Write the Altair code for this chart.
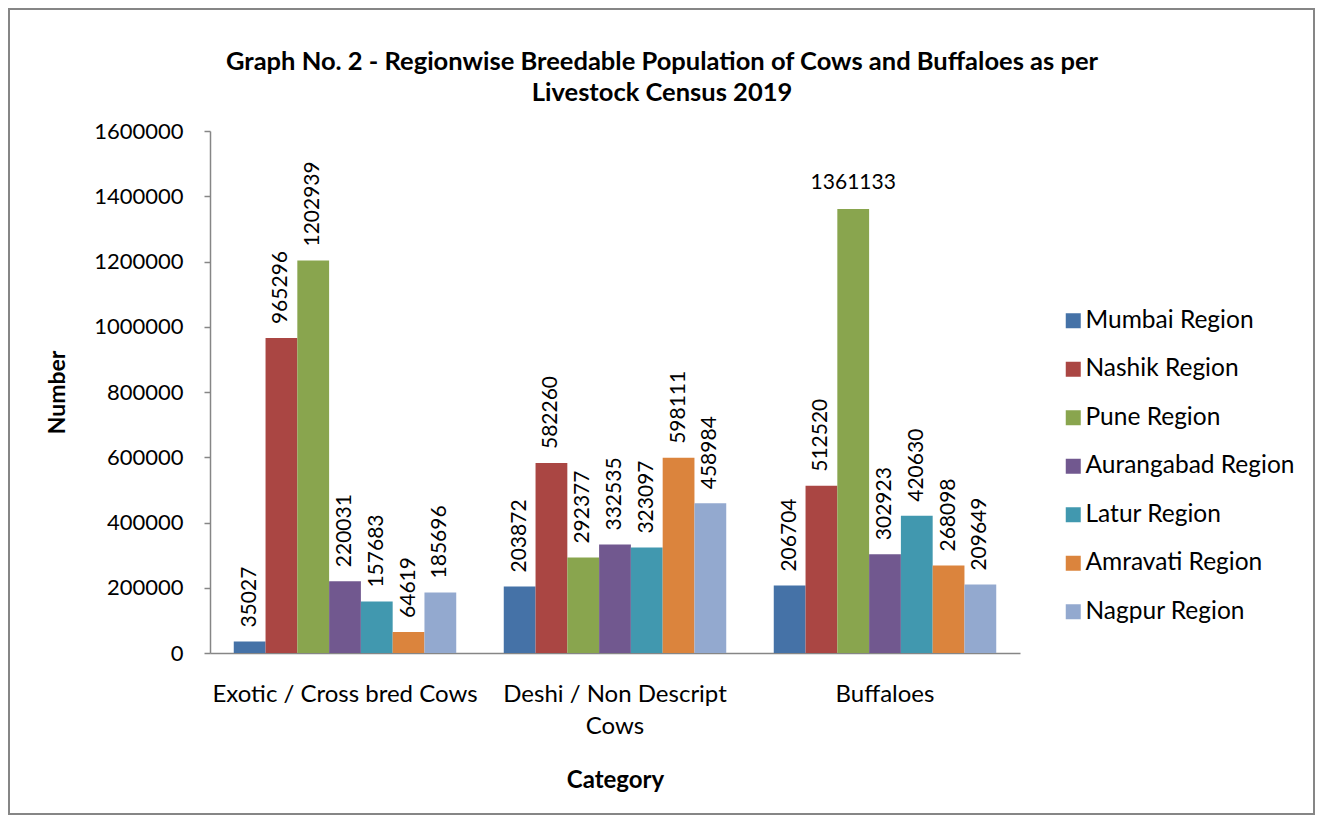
import altair as alt
import pandas as pd

categories = ["Exotic / Cross bred Cows", "Deshi / Non Descript Cows", "Buffaloes"]
regions = ["Mumbai Region", "Nashik Region", "Pune Region", "Aurangabad Region",
           "Latur Region", "Amravati Region", "Nagpur Region"]
exotic = [35027, 965296, 1202939, 220031, 157683, 64619, 185696]
deshi = [203872, 582260, 292377, 332535, 323097, 598111, 458984]
buffaloes = [206704, 512520, 1361133, 302923, 420630, 268098, 209649]
colors = ["#4572A7", "#AA4643", "#89A54E", "#71588F", "#4198AF", "#DB843D", "#93A9CF"]
y_ticks = [0, 200000, 400000, 600000, 800000, 1000000, 1200000, 1400000, 1600000]
title_lines = ["Graph No. 2 - Regionwise Breedable Population of Cows and Buffaloes as per",
               "Livestock Census 2019"]

rows = []
for cat, vals in zip(categories, [exotic, deshi, buffaloes]):
    for r, v in zip(regions, vals):
        rows.append({"Category": cat, "Region": r, "Number": v})
df = pd.DataFrame(rows)

FONT = "Lato"
GRAY = "#868686"
W, H = 810, 522

base = alt.Chart(df).encode(
    x=alt.X("Category:N", sort=categories,
            scale=alt.Scale(paddingInner=0.176, paddingOuter=0.088),
            axis=alt.Axis(title="Category", titleFont=FONT, titleFontSize=24,
                          titleFontWeight="bold", titleColor="black",
                          titleY=127, titleBaseline="middle",
                          labelAngle=0, labelFont=FONT, labelFontSize=24,
                          labelColor="black", labelPadding=29, ticks=False,
                          domainColor=GRAY, domainWidth=1.5, labelLimit=400,
                          labelLineHeight=32,
                          labelExpr="datum.label == 'Deshi / Non Descript Cows' ? ['Deshi / Non Descript', 'Cows'] : datum.label")),
    xOffset=alt.XOffset("Region:N", sort=regions,
                        scale=alt.Scale(paddingInner=0, paddingOuter=0)),
    y=alt.Y("Number:Q", scale=alt.Scale(domain=[0, 1600000], nice=False),
            axis=alt.Axis(title="Number", values=y_ticks, format="d", grid=False,
                          tickSize=6, tickColor=GRAY, tickWidth=1.5,
                          domainColor=GRAY, domainWidth=1.5,
                          labelPadding=21, labelFont=FONT, labelFontSize=22,
                          labelColor="black",
                          titleFont=FONT, titleFontSize=23, titleFontWeight="bold",
                          titleColor="black", titleX=-153, titleY=261,
                          titleAngle=270, titleAlign="center",
                          titleBaseline="middle")),
)

bars = base.mark_bar().encode(
    color=alt.Color("Region:N", sort=regions,
                    scale=alt.Scale(domain=regions, range=colors),
                    title=None,
                    legend=alt.Legend(orient="none", legendX=851, legendY=177.5,
                                      symbolType="square", symbolSize=225,
                                      symbolStrokeWidth=0, labelFont=FONT,
                                      labelFontSize=24.5, labelColor="black",
                                      labelLimit=400,
                                      rowPadding=23.5, labelOffset=0, padding=0))
)

labels_v = base.transform_filter(alt.datum.Number < 1300000).mark_text(
    angle=270, align="left", baseline="middle", dx=14, font=FONT,
    fontSize=21, color="black"
).encode(text=alt.Text("Number:Q", format="d"))

labels_h = base.transform_filter(alt.datum.Number >= 1300000).mark_text(
    align="center", baseline="alphabetic", dy=-20, font=FONT,
    fontSize=21, color="black"
).encode(text=alt.Text("Number:Q", format="d"))

one = pd.DataFrame({"k": [0]})
frame = alt.Chart(one).mark_rect(fillOpacity=0, stroke=GRAY, strokeWidth=2).encode(
    x=alt.value(-201), x2=alt.value(1104), y=alt.value(-122), y2=alt.value(683)
)
title = alt.Chart(one).mark_text(
    text=title_lines, font=FONT, fontSize=25.5, fontWeight="bold", color="black",
    align="center", baseline="middle", lineHeight=31
).encode(x=alt.value(452), y=alt.value(-69))

chart = alt.layer(frame, bars, labels_v, labels_h, title).properties(
    width=W, height=H, padding=0
).configure_view(strokeWidth=0)

chart.save("out.html", embed_options={"renderer": "svg", "actions": False})
